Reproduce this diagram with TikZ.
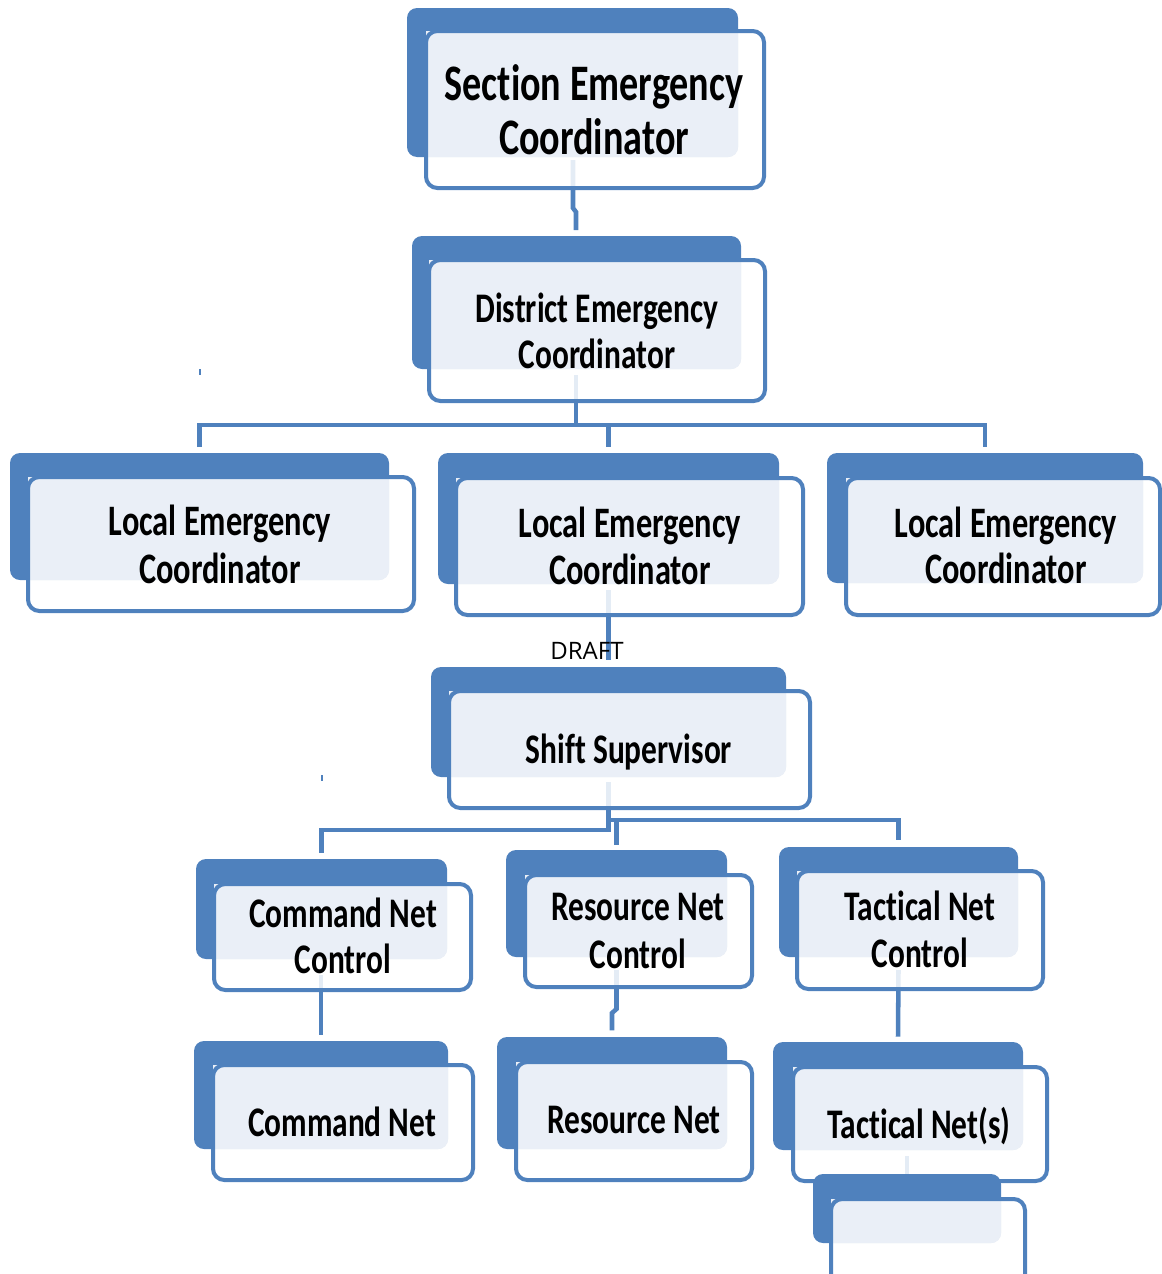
\documentclass[tikz,border=0pt]{standalone}
\usepackage{fontspec}
\setmainfont{Carlito}
\newfontfamily\boxfont{Carlito}[FakeStretch=0.745, Ligatures=NoCommon]
\newfontfamily\draftfont{Open Sans}
\usetikzlibrary{fit,calc}
\pgfdeclarelayer{bg}
\pgfsetlayers{bg,main}
\definecolor{obblue}{HTML}{4F81BD}
\definecolor{oblight}{HTML}{EAEFF7}
\tikzset{
  backbox/.style={fill=obblue, rounded corners=7.5pt, inner sep=0pt, outer sep=0pt, draw=none, rectangle},
  frontfill/.style={fill=white, fill opacity=0.85, rounded corners=8.5pt, inner sep=0pt, outer sep=0pt, rectangle},
  frontline/.style={draw=obblue, line width=3pt, rounded corners=8.5pt},
  conn/.style={draw=obblue, line width=3.4pt},
  tickmark/.style={draw=obblue, line width=1.5pt},
  lbl/.style={font=\boxfont\bfseries\fontsize{31.6}{34}\selectfont, inner sep=0pt, anchor=base},
  lblbig/.style={font=\boxfont\bfseries\fontsize{38.4}{40}\selectfont, inner sep=0pt, anchor=base},
  lblmid/.style={font=\boxfont\bfseries\fontsize{32.6}{35}\selectfont, inner sep=0pt, anchor=base},
  drafttext/.style={font=\draftfont\fontsize{18}{20}\selectfont, inner sep=0pt, anchor=base},
}
\newcommand\orgbox[9]{%
  \node[backbox, fit={(#2,#3)(#4,#5)}] (#1-b) {};
  \node[frontfill, fit={(#6,#7)(#8,#9)}] (#1) {};
  \begin{scope}
    \clip[rounded corners=7.5pt] (#2,#3) rectangle (#4,#5);
    \fill[oblight] (#6,#7) rectangle (#8,#9);
  \end{scope}
  \draw[frontline] (#1.south west) rectangle (#1.north east);
}
\begin{document}
\begin{tikzpicture}[x=0.75pt, y=-0.75pt]
\useasboundingbox (0,0) rectangle (1162,1274);
\clip (0,0) rectangle (1162,1274);

\orgbox{sec}{407}{8}{738}{157}{426}{31}{764}{188}
\orgbox{dis}{412}{236}{741}{369}{429}{260}{765}{401}
\orgbox{loca}{10}{453}{389}{580}{28}{477}{414}{611}
\orgbox{locb}{438}{453}{779}{584}{456}{478}{803}{615}
\orgbox{locc}{827}{453}{1143}{583}{846}{478}{1160}{615}
\orgbox{shift}{431}{667}{786}{777}{449}{691}{810}{808}
\orgbox{cnc}{196}{859}{447}{959}{214}{884}{471}{990}
\orgbox{rnc}{506}{850}{727}{957}{525}{875}{752}{987}
\orgbox{tnc}{779}{847}{1018}{957}{797}{871}{1043}{989}
\orgbox{cn}{194}{1041}{448}{1149}{213}{1065}{473}{1180}
\orgbox{rn}{497}{1037}{727}{1149}{516}{1062}{752}{1180}
\orgbox{tn}{773}{1042}{1023}{1150}{793}{1067}{1047}{1181}
\orgbox{ext}{813}{1174}{1001}{1243}{831}{1199}{1025}{1295}

% texts
\node[lblbig] (sec-t1) at (594,100) {Section Emergency};
\node[lblbig] (sec-t2) at (594,154) {Coordinator};
\node[lbl] (dis-t1) at (597,322) {District Emergency};
\node[lbl] (dis-t2) at (597,368) {Coordinator};
\node[lblmid] (loca-t1) at (220,535) {Local Emergency};
\node[lblmid] (loca-t2) at (220,583) {Coordinator};
\node[lblmid] (locb-t1) at (630,537) {Local Emergency};
\node[lblmid] (locb-t2) at (630,584) {Coordinator};
\node[lblmid] (locc-t1) at (1006,537) {Local Emergency};
\node[lblmid] (locc-t2) at (1006,583) {Coordinator};
\node[lbl] (shift-t) at (629,763) {Shift Supervisor};
\node[lbl] (cnc-t1) at (343,927) {Command Net};
\node[lbl] (cnc-t2) at (343,973) {Control};
\node[lbl] (rnc-t1) at (638,920) {Resource Net};
\node[lbl] (rnc-t2) at (638,968) {Control};
\node[lbl] (tnc-t1) at (920,920) {Tactical Net};
\node[lbl] (tnc-t2) at (920,967) {Control};
\node[lbl] (cn-t) at (342,1136) {Command Net};
\node[lbl] (rn-t) at (634,1133) {Resource Net};
\node[lbl] (tn-t) at (919,1138) {Tactical Net(s)};
\node[drafttext] (draft) at (587,659) {DRAFT};

\coordinate (bus) at (0,425);
\coordinate (busB) at (0,830);
\coordinate (busC) at (0,820);

\begin{pgfonlayer}{bg}
\draw[conn] ($(sec.south)+(-22,-28)$) -- ($(sec.south)+(-22,20)$) -- ($(sec.south)+(-19,24)$) -- ($(dis-b.north)+(-0.5,-6)$);
\draw[conn] ($(dis.south)+(-21,-26)$) -- ($(dis.south |- bus)+(-21,0)$);
\draw[conn] ([yshift=4.5pt]loca-b.north) -- (loca-b.north |- bus) -- (locc-b.north |- bus) -- ([yshift=4.5pt]locc-b.north);
\draw[conn] (locb-b.north |- bus) -- ([yshift=4.5pt]locb-b.north);
\draw[conn] ($(shift-b.north |- locb.south)+(0,-25)$) -- ([yshift=5pt]shift-b.north);
\draw[conn] ($(shift-b.north |- shift.south)+(0,-26)$) -- (shift-b.north |- busB) -- (cnc-b.north |- busB) -- ([yshift=4.5pt]cnc-b.north);
\draw[conn] (shift-b.north |- busC) -- (tnc-b.north |- busC) -- ([yshift=5pt]tnc-b.north);
\draw[conn] (rnc-b.north |- busC) -- ([yshift=3.75pt]rnc-b.north);
\draw[conn] ($(cn-b.north |- cnc.south)+(0,-15)$) -- ([yshift=4.5pt]cn-b.north);
\draw[conn] ($(rnc-b.north |- rnc.south)+(0,-17)$) -- ($(rnc-b.north |- rnc.south)+(0,22)$) -- ($(rn-b.north)+(0,-24)$) -- ([yshift=5pt]rn-b.north);
\draw[conn] ($(tnc-b.north |- tnc.south)+(0,-19)$) -- ([yshift=4pt]tn-b.north);
\draw[conn] ($(ext-b.north)+(0,-18)$) -- (ext-b.north);
\draw[tickmark] (200,369) -- (200,375);
\draw[tickmark] (322,775) -- (322,781);
\end{pgfonlayer}
\end{tikzpicture}
\end{document}
